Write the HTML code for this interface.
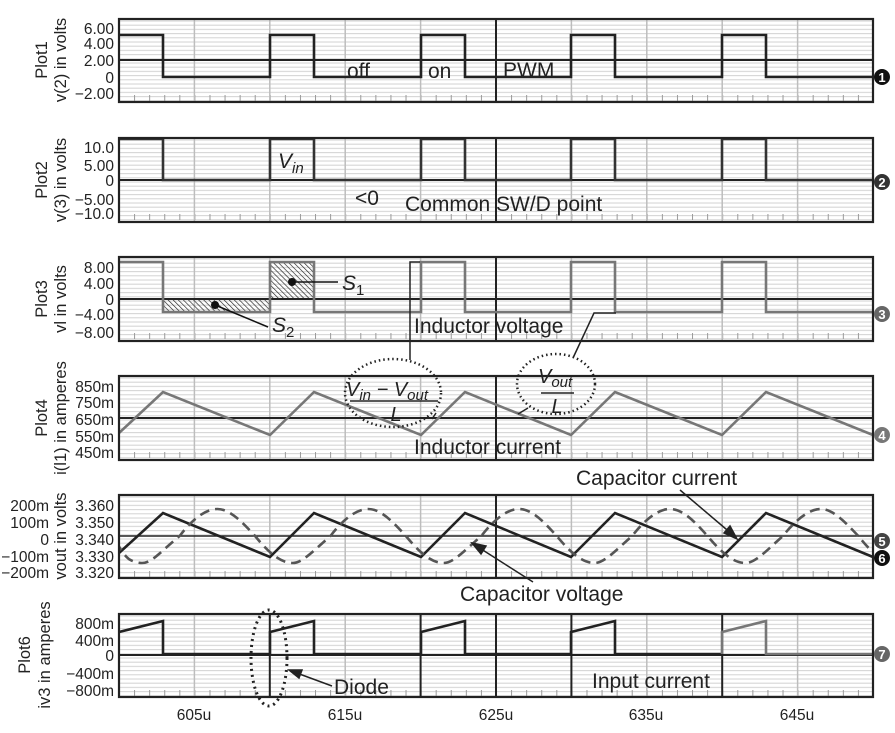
<!DOCTYPE html>
<html><head><meta charset="utf-8"><style>
html,body{margin:0;padding:0;background:#fff}
svg{display:block}
text{font-family:"Liberation Sans",sans-serif;fill:#222}
</style></head><body>
<svg width="895" height="733" viewBox="0 0 895 733" xmlns="http://www.w3.org/2000/svg">
<defs>
<pattern id="hg" x="0" y="0" width="10" height="4.2" patternUnits="userSpaceOnUse">
<line x1="0" y1="2" x2="10" y2="2" stroke="#d2d2d2" stroke-width="1"/>
</pattern>
<pattern id="tk" x="119" y="0" width="15.08" height="10" patternUnits="userSpaceOnUse">
<line x1="0.5" y1="0" x2="0.5" y2="10" stroke="#999" stroke-width="1"/>
</pattern>
<pattern id="hatch" width="3.6" height="3.6" patternUnits="userSpaceOnUse" patternTransform="rotate(-45)">
<line x1="0" y1="0" x2="0" y2="3.6" stroke="#222" stroke-width="1.3"/>
</pattern>
<g id="grid">
<rect x="119" y="0" width="754" height="84" fill="url(#hg)"/>
<rect x="119" y="76" width="754" height="6" fill="url(#tk)"/>
<g stroke="#bdbdbd" stroke-width="1.5">
<line x1="194.4" y1="0" x2="194.4" y2="84"/><line x1="269.8" y1="0" x2="269.8" y2="84"/>
<line x1="345.2" y1="0" x2="345.2" y2="84"/><line x1="420.6" y1="0" x2="420.6" y2="84"/>
<line x1="571.4" y1="0" x2="571.4" y2="84"/><line x1="646.8" y1="0" x2="646.8" y2="84"/>
<line x1="722.2" y1="0" x2="722.2" y2="84"/><line x1="797.6" y1="0" x2="797.6" y2="84"/>
</g>
<line x1="496" y1="0" x2="496" y2="84" stroke="#222" stroke-width="2"/>
</g>
<clipPath id="c5"><rect x="119" y="495" width="754" height="83"/></clipPath>
</defs>

<use href="#grid" transform="translate(0,19)"/>
<use href="#grid" transform="translate(0,138)"/>
<use href="#grid" transform="translate(0,257)"/>
<use href="#grid" transform="translate(0,376)"/>
<use href="#grid" transform="translate(0,495)"/>
<use href="#grid" transform="translate(0,614)"/>

<g stroke="#222" stroke-width="2">
<line x1="119" y1="60" x2="873" y2="60"/>
<line x1="119" y1="180" x2="873" y2="180"/>
<line x1="119" y1="299" x2="873" y2="299"/>
<line x1="119" y1="418" x2="873" y2="418"/>
<line x1="119" y1="536" x2="873" y2="536" stroke-width="1.5"/>
<line x1="119" y1="655" x2="873" y2="655"/>
<line x1="269.8" y1="614" x2="269.8" y2="698"/>
<line x1="420.6" y1="614" x2="420.6" y2="698"/>
<line x1="571.4" y1="614" x2="571.4" y2="698"/>
<line x1="722.2" y1="614" x2="722.2" y2="698"/>
</g>

<rect x="163" y="299" width="107" height="13" fill="url(#hatch)"/>
<rect x="270" y="262" width="44" height="37" fill="url(#hatch)"/>

<g fill="none" stroke-width="2.6" stroke-linejoin="miter">
<polyline stroke="#222" points="119,35 163,35 163,77 270,77 270,35 314,35 314,77 421,77 421,35 465,35 465,77 571,77 571,35 615,35 615,77 722,77 722,35 766,35 766,77 873,77"/>
<polyline stroke="#333" points="119,139 163,139 163,180 270,180 270,139 314,139 314,180 421,180 421,139 465,139 465,180 571,180 571,139 615,139 615,180 722,180 722,139 766,139 766,180 873,180"/>
<polyline stroke="#777" points="119,262 163,262 163,312 270,312 270,262 314,262 314,312 421,312 421,262 465,262 465,312 571,312 571,262 615,262 615,312 722,312 722,262 766,262 766,312 873,312"/>
<polyline stroke="#777" points="119,433 163,392 270,435 314,392 421,435 465,392 571,435 615,392 722,435 766,392 873,435"/>
<polyline stroke="#222" points="119,553 163,513 270,557 314,513 421,557 465,513 571,557 615,513 722,557 766,513 873,557"/>
<polyline stroke="#222" points="119,632 163,621 163,654 270,654 270,632 314,621 314,654 421,654 421,632 465,621 465,654 571,654 571,632 615,621 615,654 722,654"/>
<polyline stroke="#777" points="722,654 722,632 766,621 766,654 873,654"/>
</g>
<g clip-path="url(#c5)" fill="none" stroke="#555" stroke-width="2.6" stroke-dasharray="10,6">
<path d="M66.6,536 C74,522 84,509 91.7,509 C104,509 116,550 129.4,559.4 C134,562 138,563 142,563 C152,563 160,552 179.7,536 C190,522 204,509 217.4,509 C230,509 242,522 255.1,536 C268,552 280,563 292.8,563 C302,563 312,552 330.5,536 C341,522 355,509 368.2,509 C381,509 393,522 405.9,536 C419,552 431,563 443.6,563 C453,563 463,552 481.3,536 C492,522 506,509 519,509 C532,509 544,522 556.7,536 C570,552 582,563 594.4,563 C604,563 614,552 632.1,536 C643,522 657,509 669.8,509 C683,509 695,522 707.5,536 C721,552 733,563 745.2,563 C755,563 765,552 782.9,536 C794,522 808,509 820.6,509 C833,509 845,522 858.3,536 C871,552 883,563 896,563"/>
</g>

<g fill="none" stroke="#222" stroke-width="2.2">
<rect x="119" y="19" width="754" height="83"/>
<rect x="119" y="138" width="754" height="84"/>
<rect x="119" y="257" width="754" height="84"/>
<rect x="119" y="376" width="754" height="84"/>
<rect x="119" y="495" width="754" height="83"/>
<rect x="119" y="614" width="754" height="83"/>
</g>

<g font-size="15.5" text-anchor="end">
<text x="114" y="34">6.00</text><text x="114" y="49">4.00</text><text x="114" y="66">2.00</text><text x="114" y="83">0</text><text x="114" y="99">−2.00</text>
<text x="114" y="153">10.0</text><text x="114" y="171">5.00</text><text x="114" y="186">0</text><text x="114" y="205">−5.00</text><text x="114" y="219">−10.0</text>
<text x="114" y="273">8.00</text><text x="114" y="289">4.00</text><text x="114" y="305">0</text><text x="114" y="320">−4.00</text><text x="114" y="338">−8.00</text>
<text x="114" y="392">850m</text><text x="114" y="408">750m</text><text x="114" y="425">650m</text><text x="114" y="442">550m</text><text x="114" y="458">450m</text>
<text x="114" y="511">3.360</text><text x="114" y="528">3.350</text><text x="114" y="545">3.340</text><text x="114" y="562">3.330</text><text x="114" y="578">3.320</text>
<text x="49" y="511">200m</text><text x="49" y="528">100m</text><text x="49" y="545">0</text><text x="49" y="562">−100m</text><text x="49" y="578">−200m</text>
<text x="114" y="629">800m</text><text x="114" y="646">400m</text><text x="114" y="661">0</text><text x="114" y="679">−400m</text><text x="114" y="696">−800m</text>
</g>
<g font-size="16.5" text-anchor="middle">
<text transform="translate(47,60) rotate(-90)">Plot1</text>
<text transform="translate(66,60) rotate(-90)">v(2) in volts</text>
<text transform="translate(47,180) rotate(-90)">Plot2</text>
<text transform="translate(66,180) rotate(-90)">v(3) in volts</text>
<text transform="translate(47,299) rotate(-90)">Plot3</text>
<text transform="translate(66,299) rotate(-90)">vl in volts</text>
<text transform="translate(47,418) rotate(-90)">Plot4</text>
<text transform="translate(66,418) rotate(-90)">i(l1) in amperes</text>
<text transform="translate(66,536) rotate(-90)">vout in volts</text>
<text transform="translate(30,655) rotate(-90)">Plot6</text>
<text transform="translate(50,655) rotate(-90)">iv3 in amperes</text>
</g>
<g font-size="15.5" text-anchor="middle">
<text x="194" y="720">605u</text><text x="345" y="720">615u</text><text x="496" y="720">625u</text><text x="646" y="720">635u</text><text x="797" y="720">645u</text>
</g>

<g font-size="21">
<text x="347" y="78">off</text><text x="428" y="78">on</text><text x="503" y="77">PWM</text>
<text x="355" y="205">&lt;0</text>
<text x="405" y="211">Common SW/D point</text>
<text x="414" y="333">Inductor voltage</text>
<text x="414" y="454">Inductor current</text>
<text x="576" y="485">Capacitor current</text>
<text x="460" y="601">Capacitor voltage</text>
<text x="334" y="694">Diode</text>
<text x="592" y="688">Input current</text>
</g>
<text x="278" y="168" font-size="21" font-style="italic">V<tspan font-size="15" dy="5">in</tspan></text>
<text x="342" y="290" font-size="21" font-style="italic">S<tspan font-size="15" font-style="normal" dy="5">1</tspan></text>
<text x="272" y="332" font-size="21" font-style="italic">S<tspan font-size="15" font-style="normal" dy="5">2</tspan></text>
<circle cx="292" cy="282" r="4" fill="#111"/><line x1="292" y1="282" x2="338" y2="282" stroke="#111" stroke-width="1.5"/>
<circle cx="215" cy="305" r="4" fill="#111"/><line x1="215" y1="305" x2="268" y2="327" stroke="#111" stroke-width="1.5"/>

<polyline points="420,262 410,262 410,360" fill="none" stroke="#222" stroke-width="1.5"/>
<ellipse cx="393" cy="393" rx="48" ry="34" fill="none" stroke="#222" stroke-width="2.5" stroke-dasharray="1.5,3"/>
<text x="346" y="396" font-size="20" font-style="italic">V<tspan font-size="15" dy="4">in</tspan><tspan dy="-4"> − V</tspan><tspan font-size="15" dy="4">out</tspan></text>
<line x1="350" y1="401" x2="438" y2="401" stroke="#222" stroke-width="1.5"/>
<text x="396" y="421" font-size="20" font-style="italic" text-anchor="middle">L</text>
<line x1="432" y1="419" x2="436" y2="413" stroke="#222" stroke-width="1.5"/>

<polyline points="616,313 594,313 573,358" fill="none" stroke="#222" stroke-width="1.5"/>
<ellipse cx="556" cy="384" rx="39" ry="30" fill="none" stroke="#222" stroke-width="2.5" stroke-dasharray="1.5,3"/>
<text x="538" y="383" font-size="20" font-style="italic">V<tspan font-size="15" dy="4">out</tspan></text>
<line x1="541" y1="393" x2="574" y2="393" stroke="#222" stroke-width="1.5"/>
<text x="557" y="413" font-size="20" font-style="italic" text-anchor="middle">L</text>
<line x1="518" y1="414" x2="528" y2="408" stroke="#222" stroke-width="1.5"/>

<g stroke="#222" stroke-width="1.5" fill="#222">
<line x1="680" y1="490" x2="733" y2="535"/>
<polygon points="737,539 724,533 730,526"/>
<line x1="533" y1="582" x2="478" y2="547"/>
<polygon points="472,543 486,546 481,554"/>
<line x1="332" y1="686" x2="294" y2="672"/>
<polygon points="289,670 302,670 299,678"/>
</g>
<ellipse cx="269" cy="658" rx="18" ry="48" fill="none" stroke="#222" stroke-width="3" stroke-dasharray="2,4"/>

<g font-size="13" font-weight="bold" text-anchor="middle">
<circle cx="882" cy="77" r="8" fill="#111"/><text x="882" y="82" style="fill:#fff">1</text>
<circle cx="882" cy="182" r="8" fill="#333"/><text x="882" y="187" style="fill:#fff">2</text>
<circle cx="882" cy="314" r="8" fill="#666"/><text x="882" y="319" style="fill:#fff">3</text>
<circle cx="882" cy="435" r="8" fill="#777"/><text x="882" y="440" style="fill:#fff">4</text>
<circle cx="882" cy="541" r="8" fill="#444"/><text x="882" y="546" style="fill:#fff">5</text>
<circle cx="882" cy="558" r="8" fill="#111"/><text x="882" y="563" style="fill:#fff">6</text>
<circle cx="882" cy="654" r="8" fill="#666"/><text x="882" y="659" style="fill:#fff">7</text>
</g>
</svg>
</body></html>
